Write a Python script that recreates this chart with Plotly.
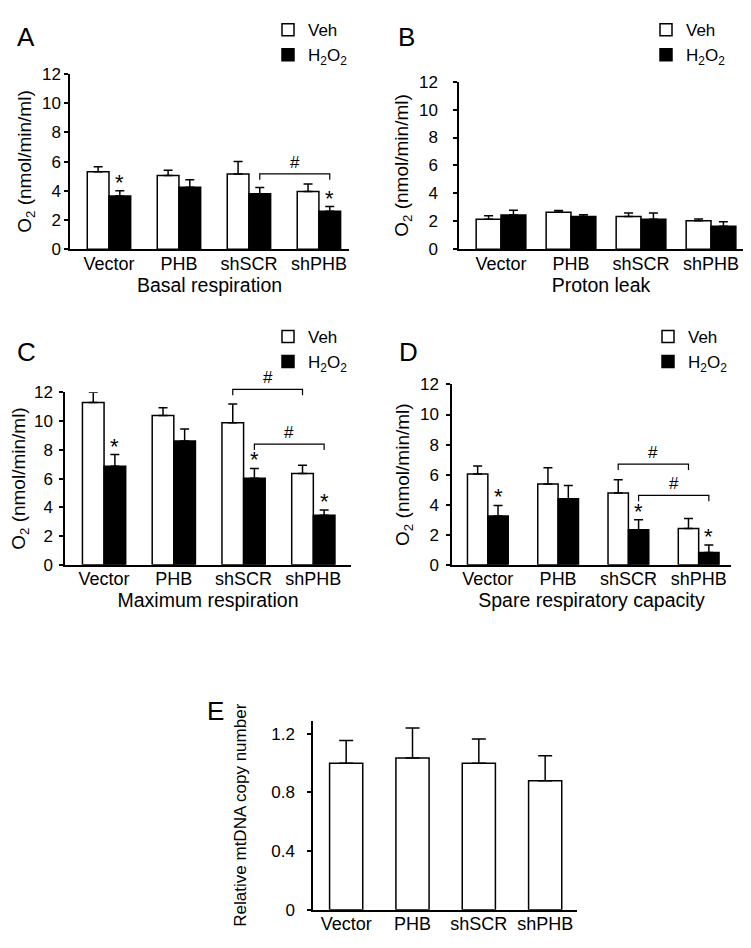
import plotly.graph_objects as go

W, H = 751, 948
FONT = "Arial, Liberation Sans, sans-serif"

categories = ["Vector", "PHB", "shSCR", "shPHB"]

# Panel A: Basal respiration
a_veh = [5.3, 5.05, 5.15, 3.95]
a_veh_err = [0.35, 0.35, 0.85, 0.52]
a_h2o2 = [3.65, 4.25, 3.8, 2.6]
a_h2o2_err = [0.35, 0.5, 0.42, 0.32]

# Panel B: Proton leak
b_veh = [2.15, 2.65, 2.35, 2.05]
b_veh_err = [0.25, 0.12, 0.25, 0.12]
b_h2o2 = [2.45, 2.35, 2.15, 1.65]
b_h2o2_err = [0.35, 0.12, 0.45, 0.32]

# Panel C: Maximum respiration
c_veh = [11.3, 10.38, 9.88, 6.36]
c_veh_err = [0.7, 0.55, 1.3, 0.57]
c_h2o2 = [6.85, 8.62, 6.02, 3.45]
c_h2o2_err = [0.82, 0.82, 0.68, 0.37]

# Panel D: Spare respiratory capacity
d_veh = [6.05, 5.38, 4.77, 2.41]
d_veh_err = [0.52, 1.08, 0.89, 0.67]
d_h2o2 = [3.25, 4.4, 2.34, 0.82]
d_h2o2_err = [0.7, 0.87, 0.65, 0.5]

# Panel E: Relative mtDNA copy number
e_vals = [1.0, 1.035, 1.0, 0.88]
e_err = [0.155, 0.205, 0.165, 0.17]

y_ticks_o2 = [0, 2, 4, 6, 8, 10, 12]
y_ticks_e = [0, 0.4, 0.8, 1.2]
y_ticktext_e = ["0", "0.4", "0.8", "1.2"]

# significance marks: (group index, series) for stars; brackets (group_from, group_to, series, height)
a_stars = [(0, "h"), (3, "h")]
a_brackets = [(2, 3, "h", 5.15)]
c_stars = [(0, "h"), (2, "h"), (3, "h")]
c_brackets = [(2, 3, "v", 12.2), (2, 3, "h", 8.4)]
d_stars = [(0, "h"), (2, "h"), (3, "h")]
d_brackets = [(2, 3, "v", 6.7), (2, 3, "h", 4.62)]

# layout geometry (pixels)
panels = {
    "A": dict(x="x", y="y", xpx=(62, 341), xr=(-0.557, 3.43), ypx=(58, 237), yr=(0, 12), w=0.31,
              legend="legend", title="Basal respiration", lstand=0, tstand=5),
    "B": dict(x="x2", y="y2", xpx=(451, 735), xr=(-0.6, 3.457), ypx=(66, 237), yr=(0, 12), w=0.355,
              legend="legend2", title="Proton leak", lstand=12, tstand=5),
    "C": dict(x="x3", y="y3", xpx=(57, 343), xr=(-0.56, 3.54), ypx=(383, 559), yr=(0, 12), w=0.31,
              legend="legend3", title="Maximum respiration", lstand=3, tstand=4),
    "D": dict(x="x4", y="y4", xpx=(444, 723), xr=(-0.51, 3.46), ypx=(375, 559), yr=(0, 12), w=0.29,
              legend="legend4", title="Spare respiratory capacity", lstand=4, tstand=5),
    "E": dict(x="x5", y="y5", xpx=(305, 569), xr=(-0.5, 3.48), ypx=(718, 911), yr=(0, 1.29), w=0.5,
              legend=None, title=None, lstand=9, tstand=20),
}

data = {
    "A": (a_veh, a_veh_err, a_h2o2, a_h2o2_err, a_stars, a_brackets),
    "B": (b_veh, b_veh_err, b_h2o2, b_h2o2_err, [], []),
    "C": (c_veh, c_veh_err, c_h2o2, c_h2o2_err, c_stars, c_brackets),
    "D": (d_veh, d_veh_err, d_h2o2, d_h2o2_err, d_stars, d_brackets),
}


def px_x(p, xv):
    x0, x1 = p["xpx"]
    r0, r1 = p["xr"]
    return x0 + (xv - r0) / (r1 - r0) * (x1 - x0)


def px_y(p, yv):
    top, bot = p["ypx"]
    r0, r1 = p["yr"]
    return bot - (yv - r0) / (r1 - r0) * (bot - top)


fig = go.Figure()
shapes = []
annotations = []

err_style = dict(type="data", symmetric=False, thickness=1.5, width=4.5, color="black")

for key in ["A", "B", "C", "D"]:
    p = panels[key]
    veh, veh_err, h2, h2_err, stars, brackets = data[key]
    w = p["w"]
    xs = list(range(len(categories)))
    fig.add_trace(go.Bar(
        x=xs, y=veh, width=w, offset=-w, name="Veh",
        marker=dict(color="white", line=dict(color="black", width=1.5)),
        error_y=dict(array=veh_err, arrayminus=[0] * 4, **err_style),
        xaxis=p["x"], yaxis=p["y"], legend=p["legend"], showlegend=True,
    ))
    fig.add_trace(go.Bar(
        x=xs, y=h2, width=w, offset=0, name="H<sub>2</sub>O<sub>2</sub>",
        marker=dict(color="black", line=dict(color="black", width=1.5)),
        error_y=dict(array=h2_err, arrayminus=[0] * 4, **err_style),
        xaxis=p["x"], yaxis=p["y"], legend=p["legend"], showlegend=True,
    ))
    # stars
    for gi, s in stars:
        if s == "h":
            xc, top = gi + w / 2, h2[gi] + h2_err[gi]
        else:
            xc, top = gi - w / 2, veh[gi] + veh_err[gi]
        annotations.append(dict(
            x=px_x(p, xc) / W, y=1 - px_y(p, top) / H, xref="paper", yref="paper",
            text="*", showarrow=False, xanchor="center", yanchor="bottom",
            font=dict(family=FONT, size=22, color="black"), yshift=-6))
    # brackets
    for g0, g1, s, hgt in brackets:
        off = w / 2 if s == "h" else -w / 2
        xa, xb = px_x(p, g0 + off), px_x(p, g1 + off)
        yt = px_y(p, hgt)
        yb = yt + 6
        path = f"M{xa/W},{1-yb/H} L{xa/W},{1-yt/H} L{xb/W},{1-yt/H} L{xb/W},{1-yb/H}"
        shapes.append(dict(type="path", path=path, xref="paper", yref="paper",
                           line=dict(color="black", width=1.2)))
        annotations.append(dict(
            x=(xa + xb) / 2 / W, y=1 - yt / H, xref="paper", yref="paper",
            text="#", showarrow=False, xanchor="center", yanchor="bottom",
            font=dict(family=FONT, size=17, color="black"), yshift=0))

# Panel E
pE = panels["E"]
fig.add_trace(go.Bar(
    x=list(range(len(categories))), y=e_vals, width=pE["w"], name="mtDNA",
    marker=dict(color="white", line=dict(color="black", width=1.5)),
    error_y=dict(array=e_err, arrayminus=[0] * 4, type="data", symmetric=False,
                 thickness=1.5, width=7, color="black"),
    xaxis="x5", yaxis="y5", showlegend=False,
))

layout = dict(
    width=W, height=H, margin=dict(l=0, r=0, t=0, b=0),
    paper_bgcolor="white", plot_bgcolor="white",
    barmode="overlay", showlegend=True,
    font=dict(family=FONT, color="black", size=16),
)

axis_font = dict(family=FONT, size=17, color="black")
for i, key in enumerate(["A", "B", "C", "D", "E"]):
    p = panels[key]
    suffix = "" if i == 0 else str(i + 1)
    xdom = [p["xpx"][0] / W, p["xpx"][1] / W]
    ydom = [1 - p["ypx"][1] / H, 1 - p["ypx"][0] / H]
    xaxis = dict(
        domain=xdom, range=list(p["xr"]), anchor="y" + suffix,
        tickvals=list(range(len(categories))), ticktext=categories,
        showline=True, linecolor="black", linewidth=1.5, ticks="", showgrid=False,
        zeroline=False, tickfont=dict(family=FONT, size=18, color="black"),
        ticklabelstandoff=-3, fixedrange=True,
    )
    if p["title"]:
        xaxis["title"] = dict(text=p["title"], font=dict(family=FONT, size=19.5, color="black"), standoff=1)
    if key == "E":
        yaxis = dict(
            domain=ydom, range=list(p["yr"]), anchor="x" + suffix,
            tickvals=y_ticks_e, ticktext=y_ticktext_e,
            title=dict(text="Relative mtDNA copy number", font=dict(family=FONT, size=17, color="black"),
                       standoff=p["tstand"]),
        )
    else:
        yaxis = dict(
            domain=ydom, range=list(p["yr"]), anchor="x" + suffix,
            tickvals=y_ticks_o2,
            title=dict(text="O<sub>2</sub> (nmol/min/ml)", font=dict(family=FONT, size=19, color="black"),
                       standoff=p["tstand"]),
        )
    yaxis.update(showline=True, linecolor="black", linewidth=1.5, ticks="outside", ticklen=4,
                 tickwidth=1.5, tickcolor="black", showgrid=False, zeroline=False,
                 tickfont=axis_font, ticklabelstandoff=p["lstand"], fixedrange=True)
    layout["xaxis" + suffix] = xaxis
    layout["yaxis" + suffix] = yaxis

legend_pos = {"legend": (260, -5), "legend2": (638, -5), "legend3": (260, 308), "legend4": (640, 308)}
for lname, (lx, ly) in legend_pos.items():
    layout[lname] = dict(x=lx / W, y=1 - ly / H, xanchor="left", yanchor="top",
                         font=dict(family=FONT, size=17, color="black"),
                         bgcolor="rgba(0,0,0,0)", itemwidth=30, tracegroupgap=0,
                         traceorder="normal", itemclick=False, itemdoubleclick=False)

letters = [("A", 18, 20), ("B", 398, 20), ("C", 18, 342), ("D", 400, 342), ("E", 207, 708)]
for t, lx, ly in letters:
    annotations.append(dict(text=t, x=lx / W, y=1 - ly / H, xref="paper", yref="paper",
                            showarrow=False, xanchor="center", yanchor="middle",
                            font=dict(family=FONT, size=26, color="black")))

layout["shapes"] = shapes
layout["annotations"] = annotations
fig.update_layout(**layout)
fig.write_html("out.html")
